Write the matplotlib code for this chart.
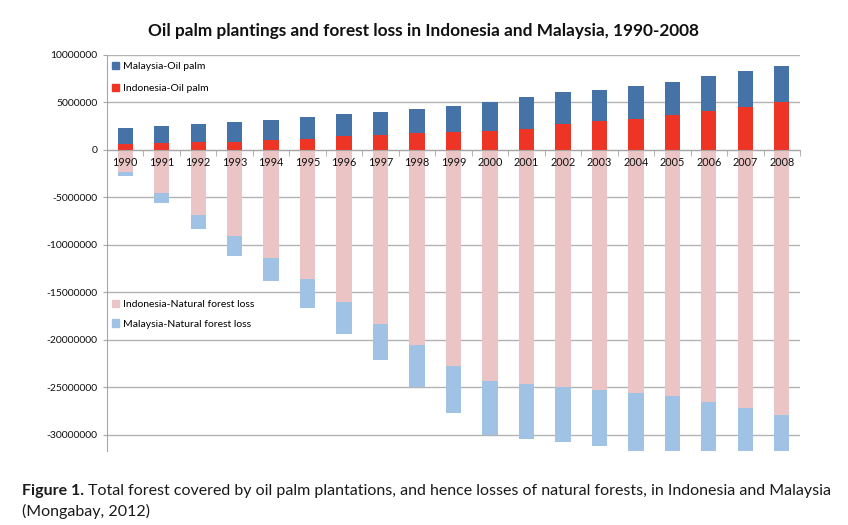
import numpy as np
import matplotlib
matplotlib.use("Agg")
import matplotlib.pyplot as plt
from matplotlib.ticker import FuncFormatter, FixedLocator
from matplotlib.patches import Patch

years = [str(y) for y in range(1990, 2009)]

# values in millions of hectares
indonesia_oil_palm = [0.63, 0.70, 0.85, 0.88, 1.06, 1.16, 1.44, 1.58, 1.80, 1.90,
                      2.01, 2.22, 2.78, 3.06, 3.31, 3.66, 4.08, 4.54, 5.00]
malaysia_oil_palm = [1.73, 1.87, 1.90, 2.04, 2.11, 2.26, 2.33, 2.47, 2.53, 2.71,
                     3.06, 3.31, 3.35, 3.24, 3.45, 3.52, 3.70, 3.73, 3.87]
indonesia_forest_loss = [2.29, 4.54, 6.80, 9.05, 11.37, 13.63, 15.97, 18.31, 20.55, 22.79,
                         24.31, 24.66, 24.97, 25.28, 25.60, 25.88, 26.58, 27.20, 27.90]
malaysia_forest_loss = [0.46, 1.02, 1.55, 2.08, 2.47, 2.99, 3.41, 3.83, 4.42, 4.88,
                        5.69, 5.73, 5.83, 5.92, 6.20, 6.30, 6.40, 6.50, 6.60]

yticks = [10000000, 5000000, 0, -5000000, -10000000, -15000000, -20000000, -25000000, -30000000]

SCALE = 1e6
ido = np.array(indonesia_oil_palm) * SCALE
mop = np.array(malaysia_oil_palm) * SCALE
ifl = np.array(indonesia_forest_loss) * SCALE
mfl = np.array(malaysia_forest_loss) * SCALE

c_mal_op = "#4573A7"
c_ind_op = "#EE3424"
c_ind_fl = "#EBC5C5"
c_mal_fl = "#A0C2E5"

font = ["Lato", "DejaVu Sans"]
plt.rcParams["font.family"] = font

fig = plt.figure(figsize=(8.48, 5.25), dpi=100)
ax = fig.add_axes([107 / 848, 1 - 451 / 525, (800 - 107) / 848, (451 - 55) / 525])

x = np.arange(len(years))
w = 0.42
ax.bar(x, ido, w, color=c_ind_op, zorder=2)
ax.bar(x, mop, w, bottom=ido, color=c_mal_op, zorder=2)
ax.bar(x, -ifl, w, color=c_ind_fl, zorder=2)
ax.bar(x, -mfl, w, bottom=-ifl, color=c_mal_fl, zorder=2)

ax.set_xlim(-0.5, len(years) - 0.5)
ax.set_ylim(-31.7e6, 10e6)

ax.set_axisbelow(True)
ax.yaxis.set_major_locator(FixedLocator(yticks))
ax.yaxis.set_major_formatter(FuncFormatter(lambda v, p: "%d" % int(round(v))))
ax.grid(axis="y", color="#B3B3B3", linewidth=1.0)
ax.grid(axis="x", visible=False)

ax.spines["top"].set_visible(False)
ax.spines["right"].set_visible(False)
ax.spines["left"].set_color("#A6A6A6")
ax.spines["bottom"].set_position(("data", 0))
ax.spines["bottom"].set_color("#A6A6A6")
ax.spines["bottom"].set_zorder(3)

ax.set_xticks(x)
ax.set_xticklabels(years)
ax.set_xticks(np.arange(-0.5, len(years), 1.0), minor=True)
ax.tick_params(axis="x", which="major", length=0, labelsize=7.8, pad=5, labelcolor="#111111")
ax.tick_params(axis="x", which="minor", length=4, color="#A6A6A6", direction="out")
ax.tick_params(axis="y", length=3, color="#A6A6A6", labelsize=7.5, pad=4, labelcolor="#111111")
ax.xaxis.set_zorder(3)

leg1 = ax.legend(handles=[Patch(color=c_mal_op, label="Malaysia-Oil palm"),
                          Patch(color=c_ind_op, label="Indonesia-Oil palm")],
                 loc="upper left", bbox_to_anchor=(110 / 848, 1 - 60 / 525),
                 bbox_transform=fig.transFigure, frameon=False, fontsize=7.5,
                 handlelength=0.7, handleheight=0.7, handletextpad=0.35,
                 labelspacing=1.2, borderaxespad=0, borderpad=0.2)
ax.add_artist(leg1)
leg2 = ax.legend(handles=[Patch(color=c_ind_fl, label="Indonesia-Natural forest loss"),
                          Patch(color=c_mal_fl, label="Malaysia-Natural forest loss")],
                 loc="upper left", bbox_to_anchor=(110 / 848, 1 - 298 / 525),
                 bbox_transform=fig.transFigure, frameon=False, fontsize=7.5,
                 handlelength=0.7, handleheight=0.7, handletextpad=0.35,
                 labelspacing=0.95, borderaxespad=0, borderpad=0.2)

fig.text(423 / 848, 1 - 31 / 525, "Oil palm plantings and forest loss in Indonesia and Malaysia, 1990-2008",
         ha="center", va="center", fontsize=12.4, fontweight="bold", color="#111111")

cap_size = 11.5
t_bold = fig.text(22 / 848, 1 - 491 / 525, "Figure 1.", ha="left", va="center", fontsize=cap_size,
                  fontweight="bold", color="#1a1a1a")
fig.canvas.draw()
bb = t_bold.get_window_extent()
fig.text((bb.x1 + 4) / 848, 1 - 491 / 525,
         "Total forest covered by oil palm plantations, and hence losses of natural forests, in Indonesia and Malaysia",
         ha="left", va="center", fontsize=cap_size, color="#1a1a1a")
fig.text(22 / 848, 1 - 511 / 525, "(Mongabay, 2012)", ha="left", va="center", fontsize=cap_size, color="#1a1a1a")

fig.savefig("out.png", dpi=100)
